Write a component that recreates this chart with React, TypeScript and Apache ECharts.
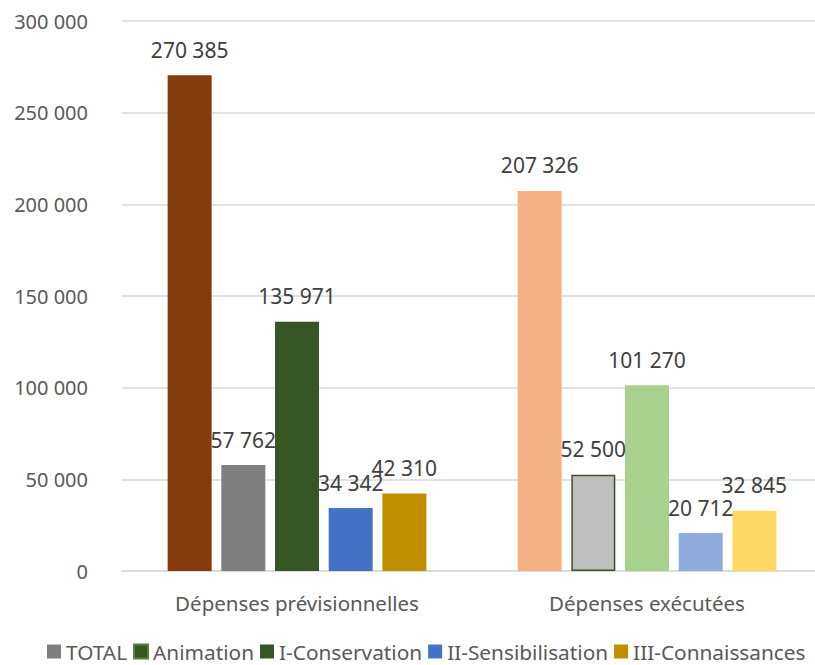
import React, { useEffect, useRef } from "react";
import * as echarts from "echarts";

const categories = ["Dépenses prévisionnelles", "Dépenses exécutées"];
const seriesNames = ["TOTAL", "Animation", "I-Conservation", "II-Sensibilisation", "III-Connaissances"];
const totalValues = [270385, 207326];
const animationValues = [57762, 52500];
const conservationValues = [135971, 101270];
const sensibilisationValues = [34342, 20712];
const connaissancesValues = [42310, 32845];

const legendColors = ["#7F7F7F", "#375623", "#375623", "#4472C4", "#BF8F00"];
const pointColors = [
  ["#843C0C", "#F4B183"],
  ["#7F7F7F", "#BFBFBF"],
  ["#375623", "#A9D18E"],
  ["#4472C4", "#8FAADC"],
  ["#BF8F00", "#FFD966"],
];

const FONT = "'Noto Sans', sans-serif";
const fmt = (v: number) => String(Math.round(v)).replace(/\B(?=(\d{3})+(?!\d))/g, " ");

export default function App() {
  const ref = useRef<HTMLDivElement>(null);
  useEffect(() => {
    if (!ref.current) return;
    const chart = echarts.init(ref.current, null, { renderer: "svg" });
    const allValues = [totalValues, animationValues, conservationValues, sensibilisationValues, connaissancesValues];
    const series = seriesNames.map((name, si) => ({
      name,
      type: "bar",
      barWidth: 44,
      barGap: "22%",
      itemStyle:
        si === 1
          ? { color: legendColors[si], borderColor: "#548235", borderWidth: 1 }
          : { color: legendColors[si] },
      label: {
        show: true,
        position: "top",
        distance: 15,
        formatter: (p: any) => fmt(p.value),
        fontFamily: FONT,
        fontSize: 21,
        color: "#404040",
      },
      data: allValues[si].map((v, ci) => ({
        value: v,
        itemStyle:
          si === 1 && ci === 1
            ? { color: pointColors[si][ci], borderColor: "#375623", borderWidth: 1.5 }
            : { color: pointColors[si][ci], borderWidth: 0 },
      })),
    }));
    chart.setOption({
      animation: false,
      backgroundColor: "#ffffff",
      grid: { left: 122, top: 21, width: 700, height: 550, containLabel: false, outerBoundsMode: "none" },
      legend: {
        left: 47,
        top: 641,
        padding: 0,
        itemWidth: 14,
        itemHeight: 14,
        itemGap: 6,
        icon: "rect",
        textStyle: { fontFamily: FONT, fontSize: 20.8, lineHeight: 21, color: "#595959", padding: [0, 0, 0, 0] },
        data: seriesNames.map((n, i) => ({ name: n, itemStyle: { color: legendColors[i] } })),
      },
      xAxis: {
        type: "category",
        data: categories,
        axisLine: { lineStyle: { color: "#D9D9D9", width: 1.5 } },
        axisTick: { show: false },
        axisLabel: { fontFamily: FONT, fontSize: 20.5, color: "#595959", margin: 21 },
      },
      yAxis: {
        type: "value",
        min: 0,
        max: 300000,
        interval: 50000,
        axisLine: { show: false },
        axisTick: { show: false },
        splitLine: { lineStyle: { color: "#D9D9D9", width: 1.5 } },
        axisLabel: { fontFamily: FONT, fontSize: 20, color: "#595959", margin: 34, formatter: (v: number) => fmt(v) },
      },
      series,
    });
    return () => chart.dispose();
  }, []);
  return <div ref={ref} style={{ position: "fixed", left: 0, top: 0, width: 815, height: 665 }} />;
}
